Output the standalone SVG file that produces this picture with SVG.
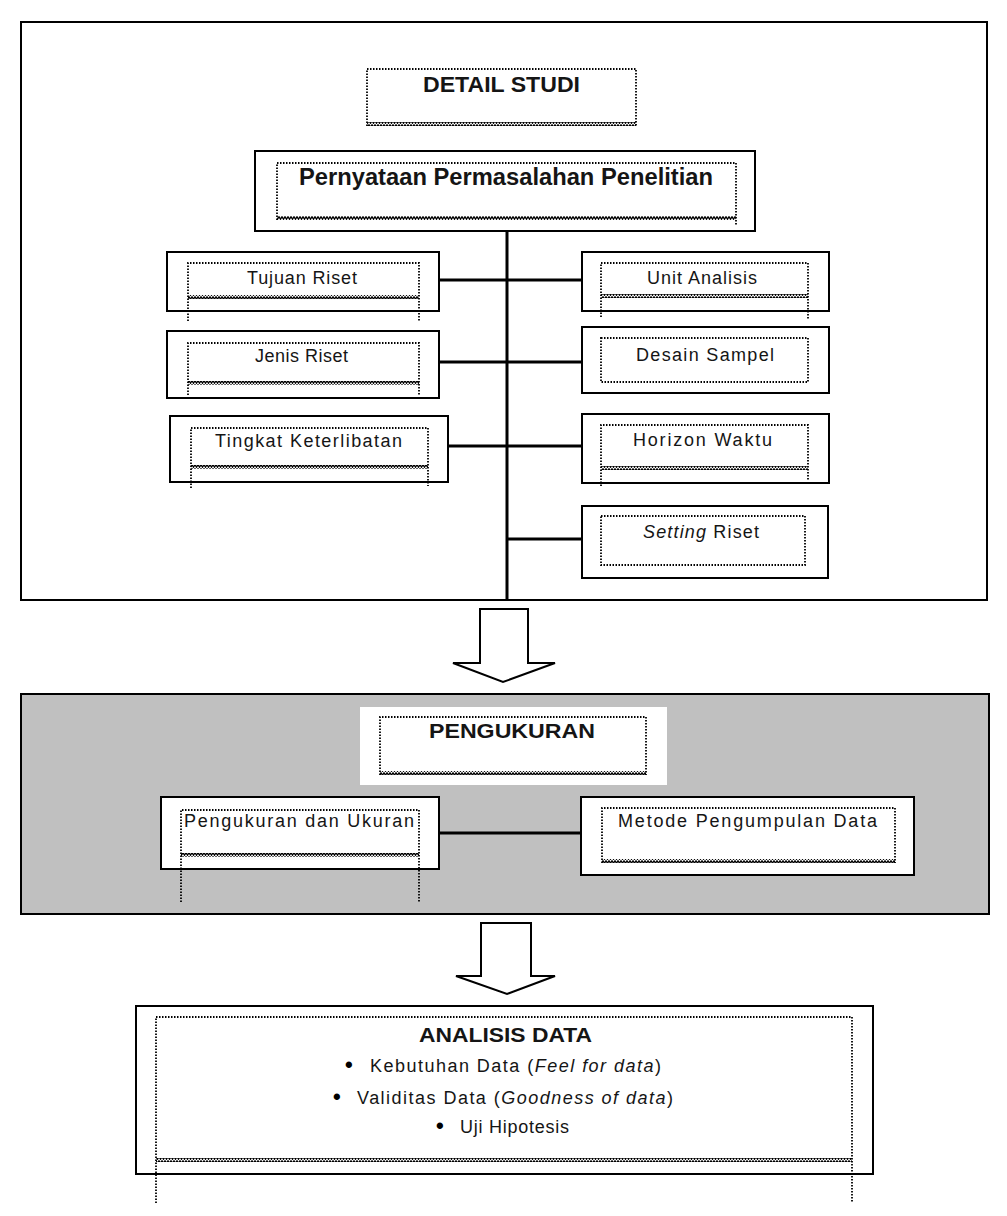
<svg xmlns="http://www.w3.org/2000/svg" width="1007" height="1216" viewBox="0 0 1007 1216">
<style>
.frame{fill:#fff;stroke:#000;stroke-width:2}
.box{fill:#fff;stroke:#000;stroke-width:2}
.dot{fill:none;stroke:#000;stroke-width:1.8;stroke-dasharray:1.5 1.5}
.wave{fill:url(#wave)}
.conn{stroke:#000;stroke-width:3;fill:none}
.arrow{fill:#fff;stroke:#000;stroke-width:2;stroke-linejoin:miter}
text{font-family:"Liberation Sans",Arial,sans-serif;fill:#151515}
.h{font-weight:bold}
.s{font-size:18px}
.b{font-size:22px;font-weight:bold;fill:#000}
</style>
<defs>
<pattern id="wave" width="3" height="4" patternUnits="userSpaceOnUse">
<path d="M-1.5,2.8 L0,0.8 L1.5,3.2 L3,0.8 L4.5,3.2" fill="none" stroke="#000" stroke-width="1.3"/>
</pattern>
</defs>
<rect width="1007" height="1216" fill="#fff"/>

<g id="section-detail-studi">
<rect class="frame" x="21" y="22" width="966" height="578"/>
</g>
<g id="section-pengukuran">
<rect x="21" y="694" width="968" height="220" fill="#c0c0c0" stroke="#000" stroke-width="2"/>
</g>

<g id="connectors">
<line class="conn" x1="507" y1="231" x2="507" y2="600"/>
<line class="conn" x1="439" y1="280" x2="582" y2="280"/>
<line class="conn" x1="439" y1="362" x2="582" y2="362"/>
<line class="conn" x1="448" y1="446" x2="582" y2="446"/>
<line class="conn" x1="507" y1="539" x2="582" y2="539"/>
<line class="conn" x1="439" y1="833" x2="581" y2="833"/>
<polygon class="arrow" points="480,609 528,609 528,663 555,663 503,682 453,663 480,663"/>
<polygon class="arrow" points="481,923 531,923 531,976 555,976 507,994 456,976 481,976"/>
</g>

<g id="node-detail-studi">
<path class="dot" d="M367,126 V69 H636 V126"/>
<rect class="wave" x="367" y="122" width="269" height="4"/>
<text class="h" x="423" y="92" font-size="22" textLength="157" lengthAdjust="spacingAndGlyphs">DETAIL STUDI</text>
</g>

<g id="node-pernyataan">
<rect class="box" x="255" y="151" width="500" height="80"/>
<path class="dot" d="M277,220 V163 H736 V225"/>
<rect class="wave" x="277" y="216" width="459" height="4"/>
<text class="h" x="299" y="185" font-size="23" textLength="414" lengthAdjust="spacingAndGlyphs">Pernyataan Permasalahan Penelitian</text>
</g>

<g id="node-tujuan-riset">
<rect class="box" x="167" y="252" width="272" height="59"/>
<path class="dot" d="M188,321 V263 H419 V321"/>
<rect class="wave" x="188" y="295" width="231" height="4"/>
<text class="s" x="247" y="284" textLength="110" lengthAdjust="spacing">Tujuan Riset</text>
</g>

<g id="node-jenis-riset">
<rect class="box" x="167" y="331" width="272" height="67"/>
<path class="dot" d="M188,395 V343 H419 V395"/>
<rect class="wave" x="188" y="381" width="231" height="4"/>
<text class="s" x="255" y="362" textLength="93" lengthAdjust="spacing">Jenis Riset</text>
</g>

<g id="node-tingkat-keterlibatan">
<rect class="box" x="170" y="416" width="278" height="66"/>
<path class="dot" d="M191,488 V428 H428 V486"/>
<rect class="wave" x="191" y="465" width="237" height="4"/>
<text class="s" x="215" y="447" textLength="187" lengthAdjust="spacing">Tingkat Keterlibatan</text>
</g>

<g id="node-unit-analisis">
<rect class="box" x="582" y="252" width="247" height="59"/>
<path class="dot" d="M601,317 V263 H808 V319"/>
<rect class="wave" x="601" y="294" width="207" height="4"/>
<text class="s" x="647" y="284" textLength="110" lengthAdjust="spacing">Unit Analisis</text>
</g>

<g id="node-desain-sampel">
<rect class="box" x="582" y="327" width="247" height="66"/>
<rect class="dot" x="601" y="338" width="207" height="44"/>
<text class="s" x="636" y="361" textLength="138" lengthAdjust="spacing">Desain Sampel</text>
</g>

<g id="node-horizon-waktu">
<rect class="box" x="582" y="414" width="247" height="69"/>
<path class="dot" d="M601,486 V425 H808 V480"/>
<rect class="wave" x="601" y="466" width="207" height="4"/>
<text class="s" x="633" y="446" textLength="139" lengthAdjust="spacing">Horizon Waktu</text>
</g>

<g id="node-setting-riset">
<rect class="box" x="582" y="506" width="246" height="72"/>
<rect class="dot" x="601" y="516" width="204" height="49"/>
<text class="s" x="643" y="538" textLength="116" lengthAdjust="spacing"><tspan font-style="italic">Setting</tspan> Riset</text>
</g>

<g id="node-pengukuran">
<rect x="360" y="707" width="307" height="78" fill="#fff"/>
<path class="dot" d="M380,775 V717 H646 V775"/>
<rect class="wave" x="380" y="771" width="266" height="4"/>
<text class="h" x="429" y="738" font-size="21" textLength="166" lengthAdjust="spacingAndGlyphs">PENGUKURAN</text>
</g>

<g id="node-pengukuran-ukuran">
<rect class="box" x="161" y="797" width="278" height="72"/>
<path class="dot" d="M181,902 V810 H419 V902"/>
<rect class="wave" x="181" y="853" width="238" height="4"/>
<text class="s" x="184" y="827" textLength="230" lengthAdjust="spacing">Pengukuran dan Ukuran</text>
</g>

<g id="node-metode">
<rect class="box" x="581" y="797" width="333" height="78"/>
<path class="dot" d="M602,863 V808 H895 V863"/>
<rect class="wave" x="602" y="859" width="293" height="4"/>
<text class="s" x="618" y="827" textLength="259" lengthAdjust="spacing">Metode Pengumpulan  Data</text>
</g>

<g id="node-analisis-data">
<rect class="box" x="136" y="1006" width="737" height="168"/>
<path class="dot" d="M156,1203 V1017 H852 V1203"/>
<rect class="wave" x="156" y="1158" width="696" height="4"/>
<text class="h" x="419" y="1042" font-size="20" textLength="173" lengthAdjust="spacingAndGlyphs">ANALISIS DATA</text>
<text class="b" x="345" y="1072">•</text>
<text class="s" x="370" y="1072" textLength="291" lengthAdjust="spacing">Kebutuhan  Data (<tspan font-style="italic">Feel for data</tspan>)</text>
<text class="b" x="333" y="1104">•</text>
<text class="s" x="357" y="1104" textLength="316" lengthAdjust="spacing">Validitas Data (<tspan font-style="italic">Goodness  of data</tspan>)</text>
<text class="b" x="436" y="1133">•</text>
<text class="s" x="460" y="1133" textLength="109" lengthAdjust="spacing">Uji Hipotesis</text>
</g>
</svg>
